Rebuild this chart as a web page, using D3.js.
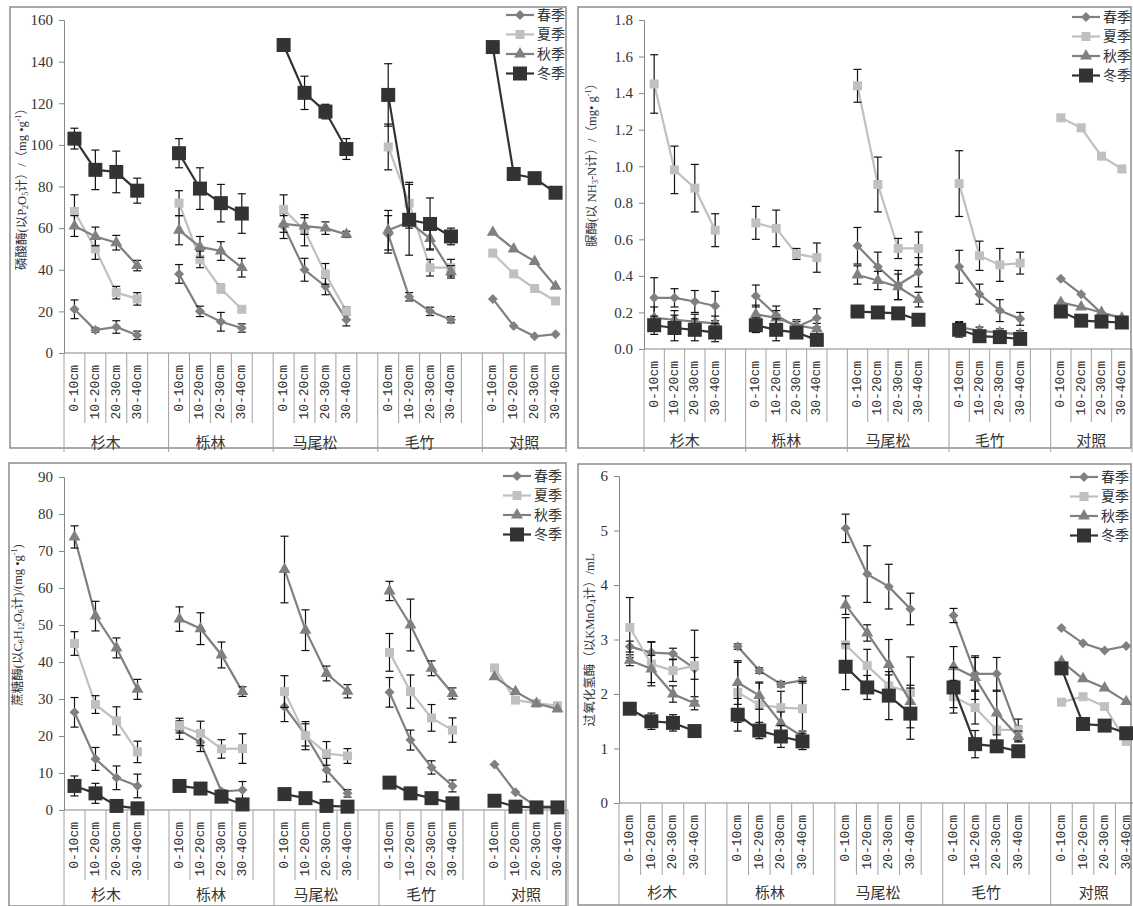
<!DOCTYPE html>
<html>
<head>
<meta charset="utf-8">
<script src="https://cdn.jsdelivr.net/npm/d3@7"></script>
<style>
  body { margin: 0; background: #fff; }
  svg text { font-family: "Liberation Serif", "Noto Sans CJK SC", serif; fill: #333; }
  svg text.depth { font-family: "Liberation Mono", monospace; }
</style>
</head>
<body>
<svg id="chart" width="1133" height="906"></svg>
<script>
// categories
const groups = ['杉木', '栎林', '马尾松', '毛竹', '对照'];
const depths = ['0-10cm', '10-20cm', '20-30cm', '30-40cm'];
const seasons = ['春季', '夏季', '秋季', '冬季'];

// 磷酸酶 (rows: 春 夏 秋 冬; 5 groups x 4 depths)
const phosMean = [
  [21, 11, 12.5, 8.5,  38, 20, 15, 12,  61, 40, 32, 16,  57, 27, 20, 16,  26, 13, 8, 9],
  [68, 50, 29, 26,  72, 45, 31, 21,  69, 59, 38, 20,  99, 72, 41, 41,  48, 38, 31, 25],
  [61, 56, 53, 42,  59, 51, 49, 41,  62, 61, 60, 57,  59, 63, 55, 39,  58, 50, 44, 32],
  [103, 88, 87, 78,  96, 79, 72, 67,  148, 125, 116, 98,  124, 64, 62, 56,  147, 86, 84, 77]
];
const phosErr = [
  [4.5, 1, 3, 2,  4.5, 2.5, 4.5, 2,  6, 5.5, 4, 3,  9, 2, 2, 1.5,  null, null, null, null],
  [8, 5, 3, 3,  6, 4, 2, 1.5,  7, 7.5, 5, 2,  11, 10, 4, 4,  null, null, null, null],
  [5, 4.5, 3.5, 2.5,  7, 5, 4.5, 4.5,  4, 4, 3, 1.5,  9.5, 3, 5, 3,  null, null, null, null],
  [5, 9.5, 10, 6,  7, 10, 9, 9.5,  1, 8, 3.5, 5,  15, 17, 12.5, 4,  null, null, null, null]
];

// 脲酶
const ureaMean = [
  [0.28, 0.28, 0.26, 0.235,  0.29, 0.185, 0.12, 0.17,  0.565, 0.45, 0.35, 0.42,  0.45, 0.30, 0.21, 0.165,  0.385, 0.30, 0.195, 0.17],
  [1.45, 0.98, 0.88, 0.65,  0.69, 0.66, 0.52, 0.50,  1.44, 0.90, 0.55, 0.55,  0.905, 0.51, 0.46, 0.47,  1.265, 1.21, 1.055, 0.985],
  [0.17, 0.16, 0.15, 0.14,  0.19, 0.17, 0.13, 0.11,  0.405, 0.375, 0.34, 0.27,  0.12, 0.10, 0.09, 0.08,  0.255, 0.23, 0.20, 0.17],
  [0.13, 0.115, 0.105, 0.09,  0.13, 0.105, 0.09, 0.05,  0.205, 0.20, 0.195, 0.16,  0.105, 0.07, 0.065, 0.055,  0.205, 0.155, 0.15, 0.145]
];
const ureaErr = [
  [0.11, 0.05, 0.06, 0.08,  0.06, 0.05, 0.03, 0.05,  0.1, 0.08, 0.08, 0.08,  0.09, 0.055, 0.06, 0.035,  null, null, null, null],
  [0.16, 0.13, 0.13, 0.09,  0.09, 0.1, 0.03, 0.08,  0.09, 0.15, 0.055, 0.09,  0.18, 0.08, 0.09, 0.06,  null, null, null, null],
  [0.06, 0.05, 0.04, 0.04,  0.05, 0.04, 0.03, 0.03,  0.05, 0.05, 0.07, 0.04,  0.03, 0.02, 0.02, 0.02,  null, null, null, null],
  [0.05, 0.07, 0.06, 0.05,  0.04, 0.06, 0.03, 0.03,  0.02, 0.02, 0.03, 0.03,  0.04, 0.03, 0.03, 0.03,  null, null, null, null]
];

// 蔗糖酶
const sucrMean = [
  [26.4, 13.8, 8.7, 6.5,  21.6, 18.3, 5, 5.4,  27.9, 20.3, 10.8, 4.5,  31.8, 18.9, 11.5, 6.5,  12.3, 4.8, 0.9, 0.9],
  [45, 28.5, 24.1, 15.7,  22.8, 20.7, 16.5, 16.6,  32, 20.1, 15.3, 14.6,  42.6, 32, 24.9, 21.6,  38.4, 29.7, 28.8, 28.2],
  [73.8, 52.4, 43.8, 32.6,  51.6, 49, 41.9, 32,  65, 48.6, 36.9, 32.1,  59.2, 50, 38.3, 31.5,  36, 32, 28.8, 27.3],
  [6.5, 4.5, 1.1, 0.45,  6.5, 5.8, 3.6, 1.5,  4.3, 3.2, 1.1, 0.9,  7.4, 4.5, 3.2, 1.8,  2.5, 0.9, 0.7, 0.7]
];
const sucrErr = [
  [4, 3.1, 3.2, 3.2,  2.5, 2.5, 0.5, 2.3,  4, 3, 3.2, 1,  4, 2.7, 1.8, 1.6,  null, null, null, null],
  [3.2, 2.4, 3.8, 2.9,  2, 3.3, 2.5, 4,  4.3, 3.8, 3.2, 2,  5.1, 4.5, 3.6, 3.3,  null, null, null, null],
  [3, 4, 2.7, 2.7,  3.3, 4.3, 3.5, 1.3,  9, 5.5, 2, 1.8,  2.6, 7, 2, 1.5,  null, null, null, null],
  [2.7, 2.7, 0.5, 0.5,  1, 1, 1, 0.5,  0.5, 0.5, 0.5, 0.5,  0.5, 0.5, 0.5, 0.5,  null, null, null, null]
];

// 过氧化氢酶
const catMean = [
  [2.87, 2.76, 2.74, 2.47,  2.87, 2.43, 2.18, 2.25,  5.04, 4.2, 3.97, 3.56,  3.44, 2.37, 2.37, 1.31,  3.21, 2.93, 2.8, 2.88],
  [3.22, 2.55, 2.43, 2.52,  2.03, 1.8, 1.75, 1.73,  2.9, 2.52, 2.15, 2.03,  1.95, 1.75, 1.34, 1.34,  1.85, 1.95, 1.77, 1.13],
  [2.62, 2.46, 2.0, 1.83,  2.21, 1.97, 1.47, 1.22,  3.63, 3.12, 2.54, 1.86,  2.5, 2.3, 1.65, 1.22,  2.6, 2.28, 2.11, 1.86],
  [1.73, 1.5, 1.47, 1.32,  1.62, 1.33, 1.22, 1.13,  2.5, 2.12, 1.97, 1.64,  2.12, 1.08, 1.04, 0.95,  2.47, 1.45, 1.42, 1.28]
];
const catErr = [
  [0.1, 0.2, 0.1, 0.2,  0.05, 0.05, 0.05, 0.05,  0.26, 0.52, 0.41, 0.29,  0.13, 0.3, 0.3, 0.1,  null, null, null, null],
  [0.55, 0.4, 0.2, 0.65,  0.55, 0.4, 0.3, 0.5,  0.5, 0.3, 0.2, 0.65,  0.3, 0.3, 0.3, 0.2,  null, null, null, null],
  [0.1, 0.25, 0.15, 0.12,  0.4, 0.25, 0.2, 0.1,  0.17, 0.15, 0.46, 0.3,  0.37, 0.4, 0.4, 0.1,  null, null, null, null],
  [0.1, 0.15, 0.15, 0.1,  0.3, 0.15, 0.2, 0.15,  0.42, 0.22, 0.44, 0.47,  0.37, 0.25, 0.1, 0.05,  null, null, null, null]
];

// series look
const seasonColor = ['#808080', '#c0c0c0', '#808080', '#333333'];
const markerShape = [d3.symbolSquare, d3.symbolSquare, d3.symbolTriangle, d3.symbolSquare];
const markerSize = [50, 81, 62, 196];
const markerRot = [45, 0, 0, 0];

const panels = [
  { mean: phosMean, err: phosErr, max: 160, step: 20, fmt: d3.format('d'),
    box: [10, 7, 556, 441], left: 64, right: 566, top: 20, bottom: 353,
    slotEnd: 423, groupY: 443, legend: [506, 15], titleXY: [22, 186],
    title: [['磷酸酶(以P', 0], ['2', -1], ['O', 0], ['5', -1], ['计）/（mg •g', 0], ['-1', 1], ['）', 0]] },
  { mean: ureaMean, err: ureaErr, max: 1.8, step: 0.2, fmt: d3.format('.1f'),
    box: [578, 7, 553, 441], left: 644, right: 1132, top: 20, bottom: 349,
    slotEnd: 422, groupY: 441, legend: [1072, 17], titleXY: [592, 162],
    title: [['脲酶(以 NH', 0], ['3', -1], ['-N计）/（mg• g', 0], ['-1', 1], ['）', 0]] },
  { mean: sucrMean, err: sucrErr, max: 90, step: 10, fmt: d3.format('d'),
    box: [9, 463, 557, 443], left: 64, right: 568, top: 477, bottom: 810,
    slotEnd: 880, groupY: 895, legend: [503, 476], titleXY: [18, 625],
    title: [['蔗糖酶(以C', 0], ['6', -1], ['H', 0], ['12', -1], ['O', 0], ['6', -1], ['计)/(mg •g', 0], ['-1', 1], [')', 0]] },
  { mean: catMean, err: catErr, max: 6, step: 1, fmt: d3.format('d'),
    box: [578, 464, 553, 441], left: 619, right: 1137, top: 476, bottom: 803,
    slotEnd: 875, groupY: 893, legend: [1070, 477], titleXY: [590, 640],
    title: [['过氧化氢酶（以KMnO', 0], ['4', -1], ['计）/mL', 0]] }
];

// 24 slots: 4 depths + a blank slot per group, none after the last group
const slots = [];
groups.forEach((g, gi) => {
  depths.forEach(d => slots.push(g + '|' + d));
  if (gi < groups.length - 1) slots.push(g + '|gap');
});

const svg = d3.select('#chart');

function drawMarker(g, si, x, y) {
  g.append('path')
    .attr('d', d3.symbol().type(markerShape[si]).size(markerSize[si])())
    .attr('transform', `translate(${x},${y}) rotate(${markerRot[si]})`)
    .attr('fill', seasonColor[si]);
}

function drawPanel(p) {
  const g = svg.append('g');
  const [bx, by, bw, bh] = p.box;

  g.append('rect')
    .attr('x', bx).attr('y', by).attr('width', bw).attr('height', bh)
    .attr('fill', 'none').attr('stroke', '#8c8c8c').attr('stroke-width', 1.5);

  const x = d3.scaleBand().domain(slots).range([p.left, p.right]).padding(0);
  const y = d3.scaleLinear().domain([0, p.max]).range([p.bottom, p.top]).clamp(true);

  // y axis
  const yAxis = g.append('g')
    .attr('transform', `translate(${p.left},0)`)
    .call(d3.axisLeft(y).tickValues(d3.range(0, p.max + p.step / 2, p.step))
      .tickFormat(p.fmt).tickSize(5).tickPadding(6));
  yAxis.select('.domain').attr('stroke', '#868686');
  yAxis.selectAll('.tick line').attr('stroke', '#868686');
  yAxis.selectAll('.tick text').attr('font-size', 15);

  // x axis: base line, slot ticks and group separators
  g.append('line')
    .attr('x1', p.left).attr('x2', p.right).attr('y1', p.bottom).attr('y2', p.bottom)
    .attr('stroke', '#868686').attr('stroke-width', 1.2);

  slots.forEach((s, i) => {
    const isGroupStart = i === 0 || slots[i - 1].endsWith('|gap');
    g.append('line')
      .attr('x1', x(s)).attr('x2', x(s))
      .attr('y1', p.bottom).attr('y2', isGroupStart ? by + bh + 4 : p.slotEnd)
      .attr('stroke', '#a0a0a0').attr('stroke-width', 1);
    if (!s.endsWith('|gap')) {
      g.append('text').attr('class', 'depth')
        .attr('transform', `translate(${x(s) + x.bandwidth() / 2},${p.bottom + 12}) rotate(-90)`)
        .attr('text-anchor', 'end').attr('dominant-baseline', 'central')
        .attr('font-size', 13)
        .text(s.split('|')[1]);
    }
  });
  g.append('line')
    .attr('x1', p.right).attr('x2', p.right).attr('y1', p.bottom).attr('y2', by + bh + 4)
    .attr('stroke', '#a0a0a0').attr('stroke-width', 1);

  groups.forEach(gr => {
    const x0 = x(gr + '|' + depths[0]);
    const x1 = x(gr + '|' + depths[3]) + x.bandwidth();
    g.append('text')
      .attr('x', (x0 + x1) / 2).attr('y', p.groupY)
      .attr('text-anchor', 'middle').attr('dominant-baseline', 'central')
      .attr('font-size', 15)
      .text(gr);
  });

  // y title with sub/superscripts
  const t = g.append('text')
    .attr('transform', `translate(${p.titleXY[0]},${p.titleXY[1]}) rotate(-90)`)
    .attr('text-anchor', 'middle').attr('dominant-baseline', 'central')
    .attr('font-size', 12.5);
  let shift = 0;
  p.title.forEach(([s, k]) => {
    const target = k === -1 ? 3 : k === 1 ? -4 : 0;
    t.append('tspan').attr('dy', target - shift).attr('font-size', k ? 8 : 12.5).text(s);
    shift = target;
  });

  // series
  const line = d3.line().x(d => d.x).y(d => d.y);
  seasons.forEach((season, si) => {
    const sg = g.append('g');
    const pts = [];
    groups.forEach((gr, gi) => {
      const grp = depths.map((d, di) => {
        const idx = gi * 4 + di;
        return {
          x: x(gr + '|' + d) + x.bandwidth() / 2,
          y: y(p.mean[si][idx]),
          v: p.mean[si][idx],
          e: p.err[si][idx]
        };
      });
      pts.push(...grp);
      sg.append('path').attr('d', line(grp))
        .attr('fill', 'none').attr('stroke', seasonColor[si]).attr('stroke-width', 2.2);
    });
    pts.filter(d => d.e != null).forEach(d => {
      const y1 = y(d.v + d.e), y2 = y(d.v - d.e);
      sg.append('line').attr('x1', d.x).attr('x2', d.x).attr('y1', y1).attr('y2', y2)
        .attr('stroke', '#111').attr('stroke-width', 1.2);
      [y1, y2].forEach(yy => sg.append('line')
        .attr('x1', d.x - 4).attr('x2', d.x + 4).attr('y1', yy).attr('y2', yy)
        .attr('stroke', '#111').attr('stroke-width', 1.2));
    });
    pts.forEach(d => drawMarker(sg, si, d.x, d.y));
  });

  // legend
  const [lx, ly] = p.legend;
  seasons.forEach((season, si) => {
    const yy = ly + si * 19.5;
    g.append('line').attr('x1', lx).attr('x2', lx + 28).attr('y1', yy).attr('y2', yy)
      .attr('stroke', seasonColor[si]).attr('stroke-width', 2.2);
    drawMarker(g, si, lx + 14, yy);
    g.append('text').attr('x', lx + 31).attr('y', yy)
      .attr('dominant-baseline', 'central')
      .attr('font-size', 14)
      .text(season);
  });
}

panels.forEach(drawPanel);
</script>
</body>
</html>
